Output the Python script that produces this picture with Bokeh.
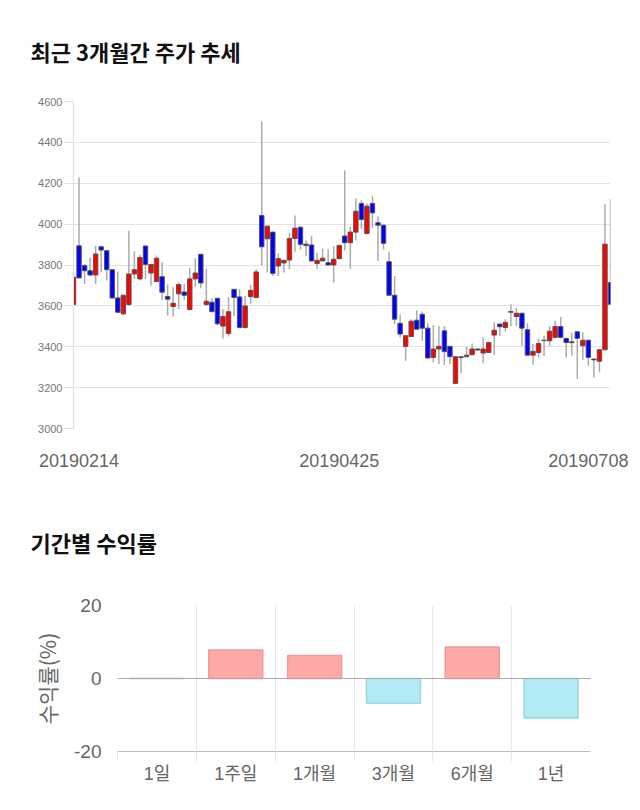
from bokeh.plotting import figure
from bokeh.models import ColumnDataSource, FixedTicker, Range1d, Span, Title
from bokeh.embed import file_html
from bokeh.resources import INLINE

# ---------------- data: daily candles (index 0 = 20190214) ----------------
opens = [3607, 3894, 3797, 3772, 3751, 3889, 3870, 3777, 3639, 3561,
         3607, 3756, 3732, 3893, 3761, 3719, 3743, 3646, 3597, 3659,
         3668, 3582, 3732, 3852, 3607, 3618, 3637, 3501, 3465, 3681,
         3644, 3494, 3645, 3641, 4042, 3928, 3961, 3795, 3810, 3824,
         3930, 3985, 3902, 3898, 3807, 3820, 3811, 3800, 3831, 3942,
         3909, 3961, 4101, 3954, 4101, 4007, 3995, 3816, 3652, 3515,
         3402, 3450, 3530, 3559, 3491, 3348, 3389, 3478, 3402, 3221,
         3351, 3351, 3361, 3389, 3369, 3372, 3457, 3511, 3494, 3572,
         3548, 3564, 3483, 3359, 3372, 3432, 3429, 3446, 3499, 3441,
         3424, 3473, 3405, 3432, 3340, 3329, 3385, 3714]
closes = [3740, 3737, 3772, 3751, 3854, 3873, 3777, 3639, 3569, 3652,
          3756, 3777, 3837, 3803, 3802, 3833, 3667, 3633, 3613, 3704,
          3652, 3732, 3761, 3712, 3623, 3572, 3512, 3548, 3571, 3641,
          3494, 3600, 3676, 3766, 3889, 3990, 3759, 3831, 3823, 3930,
          3980, 3901, 3895, 3820, 3823, 3833, 3800, 3828, 3896, 3909,
          3961, 4063, 4023, 4088, 4055, 3995, 3906, 3652, 3535, 3462,
          3454, 3525, 3486, 3491, 3345, 3389, 3402, 3376, 3351, 3351,
          3347, 3359, 3389, 3384, 3389, 3421, 3481, 3498, 3519, 3569,
          3564, 3491, 3359, 3377, 3416, 3430, 3476, 3499, 3446, 3421,
          3420, 3441, 3432, 3348, 3336, 3385, 3902, 3608]
highs = [3765, 4228, 3805, 3837, 3894, 3894, 3875, 3778, 3767, 3655,
         3967, 3867, 3850, 3893, 3805, 3846, 3813, 3704, 3691, 3715,
         3707, 3785, 3833, 3855, 3780, 3637, 3640, 3585, 3644, 3683,
         3681, 3649, 3702, 3779, 4502, 3992, 3963, 3857, 3826, 3958,
         4042, 3988, 3920, 3942, 3860, 3881, 3876, 3893, 3898, 4262,
         3987, 4125, 4117, 4101, 4137, 4039, 3997, 3865, 3746, 3556,
         3456, 3535, 3579, 3572, 3515, 3506, 3502, 3502, 3404, 3355,
         3353, 3400, 3416, 3392, 3446, 3423, 3520, 3513, 3535, 3608,
         3589, 3566, 3515, 3413, 3440, 3454, 3502, 3527, 3546, 3443,
         3470, 3475, 3470, 3434, 3342, 3387, 4097, 4122]
lows = [3600, 3735, 3707, 3745, 3707, 3764, 3724, 3635, 3565, 3555,
        3600, 3732, 3725, 3732, 3699, 3715, 3629, 3553, 3548, 3585,
        3629, 3578, 3691, 3686, 3600, 3568, 3505, 3440, 3450, 3551,
        3490, 3490, 3611, 3638, 3798, 3763, 3746, 3746, 3763, 3779,
        3865, 3876, 3844, 3815, 3779, 3818, 3798, 3714, 3828, 3872,
        3782, 3920, 3977, 3950, 3982, 3820, 3876, 3650, 3511, 3445,
        3332, 3448, 3484, 3429, 3343, 3324, 3315, 3311, 3315, 3218,
        3270, 3349, 3359, 3382, 3319, 3370, 3361, 3454, 3475, 3502,
        3502, 3405, 3355, 3312, 3348, 3356, 3402, 3440, 3440, 3348,
        3356, 3242, 3337, 3307, 3250, 3275, 3383, 3606]
date_labels = ["20190214", "20190425", "20190708"]
date_label_pos = [1, 48, 93]
price_ticks = [3000, 3200, 3400, 3600, 3800, 4000, 4200, 4400, 4600]

# ---------------- data: period returns ----------------
periods = ["1일", "1주일", "1개월", "3개월", "6개월", "1년"]
returns = [0.0, 7.8, 6.3, -6.8, 8.6, -10.8]
return_ticks = [-20, 0, 20]

FONT_KR = "Noto Sans CJK KR"
FONT_NUM = "Liberation Sans, Noto Sans CJK KR"

# ================= candlestick chart =================
n = len(opens)
src = ColumnDataSource(dict(
    x=list(range(n)),
    high=highs,
    low=lows,
    top=[max(o, c) for o, c in zip(opens, closes)],
    bottom=[min(o, c) for o, c in zip(opens, closes)],
    color=["#ff0000" if c >= o else "#0000ff" for o, c in zip(opens, closes)],
))

p1 = figure(width=640, height=475, x_range=Range1d(0, n - 1),
            y_range=Range1d(price_ticks[0], price_ticks[-1]),
            output_backend="svg", toolbar_location=None,
            min_border_left=73, min_border_right=30,
            min_border_top=100, min_border_bottom=47)
p1.title = Title(text="최근 3개월간 주가 추세", align="left", offset=-43,
                 vertical_align="middle", standoff=67,
                 text_font=FONT_KR, text_font_size="22px", text_font_style="bold",
                 text_color="#111111")
p1.outline_line_color = None
p1.segment(x0="x", y0="low", x1="x", y1="high", source=src,
           line_color="#ababab", line_width=1.5)
p1.vbar(x="x", width=0.8, top="top", bottom="bottom", source=src,
        fill_color="color", line_color="#555555", line_width=1)

p1.xgrid.visible = False
p1.ygrid.ticker = FixedTicker(ticks=price_ticks)
p1.ygrid.grid_line_color = "#e3e3e3"

ya = p1.yaxis[0]
ya.ticker = FixedTicker(ticks=price_ticks)
ya.axis_line_color = "#dddddd"
ya.major_tick_line_color = "#e3e3e3"
ya.major_tick_out = 10
ya.major_tick_in = 0
ya.minor_tick_line_color = None
ya.major_label_standoff = 1
ya.major_label_text_font = FONT_NUM
ya.major_label_text_font_size = "11px"
ya.major_label_text_color = "#777777"

xa = p1.xaxis[0]
xa.ticker = FixedTicker(ticks=date_label_pos)
xa.major_label_overrides = {pos: lab for pos, lab in zip(date_label_pos, date_labels)}
xa.axis_line_color = None
xa.major_tick_line_color = None
xa.minor_tick_line_color = None
xa.major_label_standoff = 19
xa.major_label_text_font = FONT_NUM
xa.major_label_text_font_size = "18px"
xa.major_label_text_color = "#666666"

# ================= period return bar chart =================
bsrc = ColumnDataSource(dict(
    x=[i + 0.5 for i in range(len(periods))],
    top=returns,
    fill=["#ffa8a8" if r > 0 else ("#b2ebf3" if r < 0 else "#aaaaaa") for r in returns],
    line=["#eb9c9c" if r > 0 else ("#9fd6df" if r < 0 else "#aaaaaa") for r in returns],
))

p2 = figure(width=640, height=335, x_range=Range1d(0, len(periods)),
            y_range=Range1d(return_ticks[0], return_ticks[-1]),
            output_backend="svg", toolbar_location=None,
            min_border_left=117, min_border_right=50,
            min_border_top=130, min_border_bottom=59)
p2.title = Title(text="기간별 수익률", align="left", offset=-87,
                 vertical_align="middle", standoff=94,
                 text_font=FONT_KR, text_font_size="22px", text_font_style="bold",
                 text_color="#111111")
p2.outline_line_color = None
p2.vbar(x="x", width=0.685, top="top", bottom=0, source=bsrc,
        fill_color="fill", line_color="line", line_width=1.5)

p2.xgrid.ticker = FixedTicker(ticks=list(range(len(periods))))
p2.xgrid.grid_line_color = "#e8e8e8"
p2.ygrid.ticker = FixedTicker(ticks=return_ticks)
p2.ygrid.grid_line_color = "#e3e3e3"
p2.add_layout(Span(location=0, dimension="width", line_color="#aaaaaa", line_width=1))

bx = p2.xaxis[0]
bx.ticker = FixedTicker(ticks=[i + 0.5 for i in range(len(periods))],
                        minor_ticks=list(range(len(periods))))
bx.major_label_overrides = {i + 0.5: lab for i, lab in enumerate(periods)}
bx.axis_line_color = "#bbbbbb"
bx.major_tick_line_color = None
bx.minor_tick_line_color = "#e8e8e8"
bx.minor_tick_out = 10
bx.minor_tick_in = 0
bx.major_label_standoff = 2
bx.major_label_text_font = FONT_NUM
bx.major_label_text_font_size = "18px"
bx.major_label_text_color = "#666666"

by = p2.yaxis[0]
by.ticker = FixedTicker(ticks=return_ticks)
by.major_label_overrides = {t: str(t) for t in return_ticks}
by.axis_line_color = None
by.major_tick_line_color = None
by.minor_tick_line_color = None
by.major_label_standoff = 10
by.major_label_text_font = FONT_NUM
by.major_label_text_font_size = "19px"
by.major_label_text_color = "#666666"
by.axis_label = "수익률(%)"
by.axis_label_text_font = FONT_KR
by.axis_label_text_font_style = "normal"
by.axis_label_text_font_size = "21px"
by.axis_label_text_color = "#666666"
by.axis_label_standoff = 9

open("out.html", "w").write(file_html([p1, p2], INLINE))
